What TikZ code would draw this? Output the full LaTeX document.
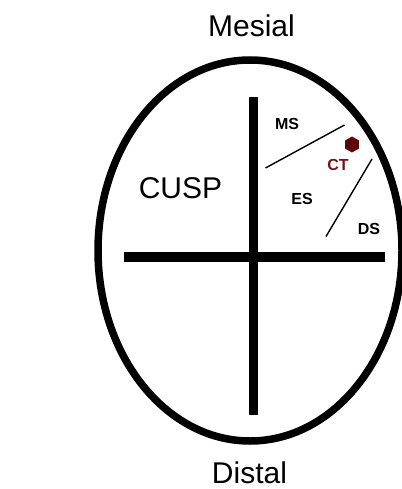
\documentclass[tikz,border=0pt]{standalone}
\usepackage{fontspec}
\setmainfont{Liberation Sans}
\usepackage{tikz}
\usetikzlibrary{shapes.geometric}
\definecolor{cuspred}{HTML}{5E0606}
\definecolor{ctred}{HTML}{761414}

\tikzset{
  bigtext/.style={font=\fontsize{30}{30}\selectfont, inner sep=0pt},
  zonetext/.style={font=\fontsize{16}{16}\selectfont\bfseries, inner sep=0pt},
  axisbar/.style={line width=9.5pt},
  zoneline/.style={line width=1.4pt}
}

\begin{document}
\begin{tikzpicture}[x=1pt, y=-1pt]
  \useasboundingbox (0,0) rectangle (401,489);
  % outline of the tooth
  \draw[line width=7.5pt] (250,250.5) ellipse [x radius=152, y radius=190.5];
  % axes
  \draw[axisbar] (253.5,97) -- (253.5,415);
  \draw[axisbar] (124,257) -- (385,257);
  % zone borders
  \coordinate (ms-a) at (265.5,168);
  \coordinate (ms-b) at (344.5,125);
  \coordinate (ds-a) at (326,236.5);
  \coordinate (ds-b) at (372,159);
  \draw[zoneline] (ms-a) -- (ms-b);
  \draw[zoneline] (ds-a) -- (ds-b);
  % labels
  \node[bigtext] (mesial) at (251.5,26) {Mesial};
  \node[bigtext] (distal) at (249.5,472.5) {Distal};
  \node[bigtext] (cusp) at (180.5,188) {CUSP};
  \node[zonetext] (ms) at (287,124) {MS};
  \node[zonetext] (es) at (302,199) {ES};
  \node[zonetext] (ds) at (369,228.5) {DS};
  \node[zonetext, text=ctred] (ct) at (338,165) {CT};
  \node[regular polygon, regular polygon sides=6, shape border rotate=30,
    fill=cuspred, minimum size=16pt, inner sep=0pt] (tip) at (352,144.5) {};
\end{tikzpicture}
\end{document}
